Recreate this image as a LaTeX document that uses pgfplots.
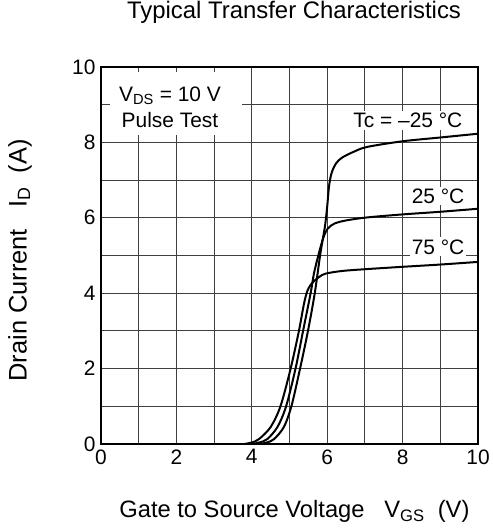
\documentclass[border=0pt]{standalone}
\usepackage{fontspec}
\setmainfont{Liberation Sans}
\usepackage{pgfplots}
\pgfplotsset{compat=1.18}
\begin{document}
\begin{tikzpicture}
\begin{axis}[
    scale only axis,
    width=377bp, height=377bp,
    at={(0,0)}, anchor=south west,
    xmin=0, xmax=10, ymin=0, ymax=10,
    xtick={0,2,...,10}, ytick={0,2,...,10},
    minor xtick={1,3,...,9}, minor ytick={1,3,...,9},
    grid=both,
    major grid style={black!75, line width=0.9bp},
    minor grid style={black!75, line width=0.9bp},
    major tick length=0pt, minor tick length=0pt,
    axis line style={line width=2.2bp},
    /pgf/number format/assume math mode=true,
    ticklabel style={font=\fontsize{21}{21}\selectfont},
    xticklabel style={yshift=-2bp},
    yticklabel style={xshift=-2bp},
    title={Typical Transfer Characteristics},
    title style={font=\fontsize{24}{24}\selectfont, at={(axis description cs:0.512,1.13)}, anchor=center},
    xlabel={Gate to Source Voltage\ \ \ V\textsubscript{GS}\ \ (V)},
    xlabel style={font=\fontsize{23.8}{24}\selectfont, at={(axis description cs:0.513,-0.18)}, anchor=center},
    ylabel={Drain Current\ \ \ I\textsubscript{D}\ \ (A)},
    ylabel style={font=\fontsize{25.5}{26}\selectfont, at={(axis description cs:-0.215,0.487)}, anchor=center},
    clip=false,
]
% Tc = -25 C
\addplot[black, line width=2bp, smooth, tension=0.5] coordinates {
    (4.2,0) (4.4,0.04) (4.59,0.13) (4.85,0.45) (5.05,1) (5.28,2) (5.49,3) (5.67,4)
    (5.82,5.06) (5.94,5.77) (6.0,6.3) (6.05,6.85) (6.12,7.2) (6.24,7.45) (6.40,7.6)
    (6.7,7.75) (7.06,7.88) (8,8.03) (9,8.13) (10,8.23)
};
% Tc = 25 C
\addplot[black, line width=2bp, smooth, tension=0.5] coordinates {
    (4.0,0) (4.2,0.04) (4.41,0.13) (4.68,0.45) (4.91,1) (5.16,2) (5.36,3) (5.56,4)
    (5.65,4.53) (5.78,5.06) (5.90,5.48) (6.02,5.72) (6.2,5.85) (6.5,5.93) (7.06,6.01)
    (8,6.09) (9,6.16) (10,6.24)
};
% Tc = 75 C
\addplot[black, line width=2bp, smooth, tension=0.5] coordinates {
    (3.8,0) (4.0,0.04) (4.19,0.13) (4.50,0.45) (4.76,1) (5.03,2) (5.25,3) (5.38,3.7)
    (5.47,4.05) (5.56,4.22) (5.66,4.33) (5.80,4.44) (5.96,4.52) (6.4,4.59) (7.06,4.64)
    (8,4.70) (9,4.76) (10,4.83)
};
\node[fill=white, minimum width=132bp, minimum height=63bp, inner sep=0pt] at (axis cs:1.99,9.03) {};
\node[font=\fontsize{21}{26}\selectfont, align=center, inner sep=0pt] at (axis cs:1.83,8.93) {V\textsubscript{DS} = 10 V\\Pulse Test};
\node[fill=white, inner sep=2bp, font=\fontsize{21}{21}\selectfont] at (axis cs:8.14,8.59) {Tc = –25 °C};
\node[fill=white, inner sep=2bp, font=\fontsize{21}{21}\selectfont] at (axis cs:8.94,6.58) {25 °C};
\node[fill=white, inner sep=2bp, font=\fontsize{21}{21}\selectfont] at (axis cs:8.94,5.23) {75 °C};
\end{axis}
\pgfresetboundingbox
\path (-101bp,-84bp) rectangle (392bp,444bp);
\end{tikzpicture}
\end{document}
